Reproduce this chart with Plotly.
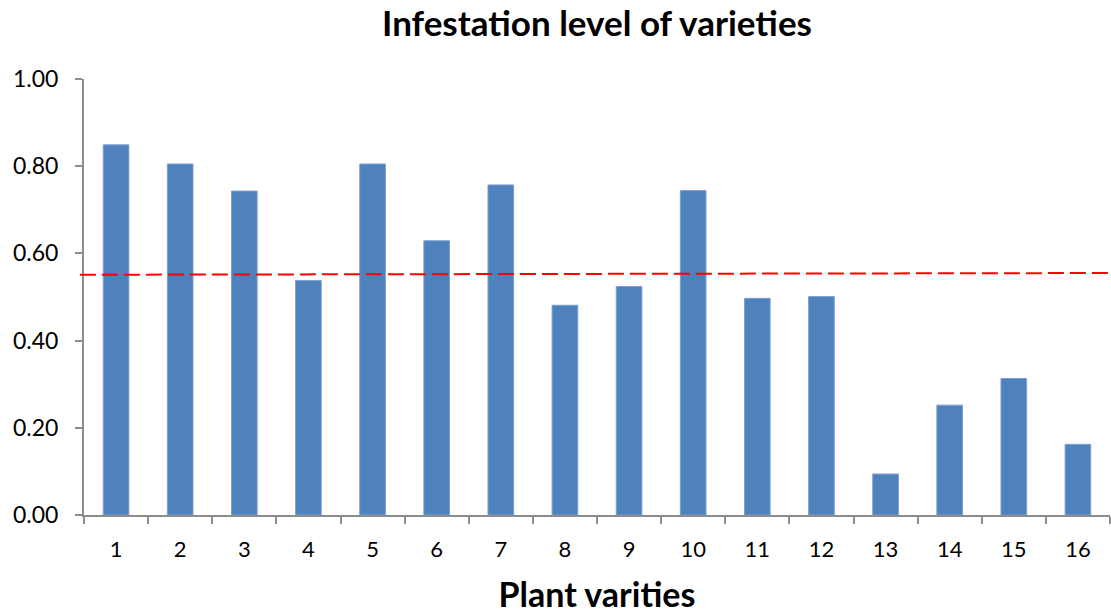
import plotly.graph_objects as go

# Infestation level per plant variety
varieties = [str(i) for i in range(1, 17)]
infestation = [0.849, 0.805, 0.743, 0.538, 0.805, 0.629, 0.757, 0.481,
               0.524, 0.744, 0.497, 0.501, 0.094, 0.252, 0.313, 0.162]

# Reference (threshold) line, start and end level
threshold_start = 0.551
threshold_end = 0.555

y_ticks = [0.0, 0.2, 0.4, 0.6, 0.8, 1.0]

FONT = "Lato"
AXIS_GREY = "#8c8c8c"

fig = go.Figure()
fig.add_trace(go.Bar(
    x=varieties,
    y=infestation,
    marker=dict(color="#4F81BD", line=dict(color="#7C9FCF", width=1)),
    hoverinfo="x+y",
))

fig.add_shape(
    type="line", xref="paper", yref="y",
    x0=-0.004, x1=1.0, y0=threshold_start, y1=threshold_end,
    line=dict(color="#FF0000", width=2, dash="16px,6px"),
)

fig.update_layout(
    width=1111, height=614,
    margin=dict(l=84, r=1, t=79, b=99),
    plot_bgcolor="white", paper_bgcolor="white",
    bargap=0.6,
    showlegend=False,
    title=dict(
        text="<b>Infestation level of varieties</b>",
        x=0.5, xanchor="center", xref="paper",
        y=1 - 24 / 614, yanchor="middle",
        font=dict(family=FONT, size=35, color="black"),
    ),
    xaxis=dict(
        type="category",
        showline=True, linecolor=AXIS_GREY, linewidth=2,
        ticks="outside", tickson="boundaries", ticklen=7,
        tickcolor=AXIS_GREY, tickwidth=2,
        tickfont=dict(family=FONT, size=22, color="black"),
        ticklabelstandoff=14,
        showgrid=False, zeroline=False,
        title=dict(text="<b>Plant varities</b>", standoff=25,
                   font=dict(family=FONT, size=34, color="black")),
    ),
    yaxis=dict(
        range=[0, 1.0],
        tickvals=y_ticks, tickformat=".2f",
        showline=True, linecolor=AXIS_GREY, linewidth=2,
        ticks="outside", ticklen=7, tickcolor=AXIS_GREY, tickwidth=2,
        tickfont=dict(family=FONT, size=23, color="black"),
        ticklabelstandoff=12,
        showgrid=False, zeroline=False,
    ),
)

fig.write_html("out.html")
